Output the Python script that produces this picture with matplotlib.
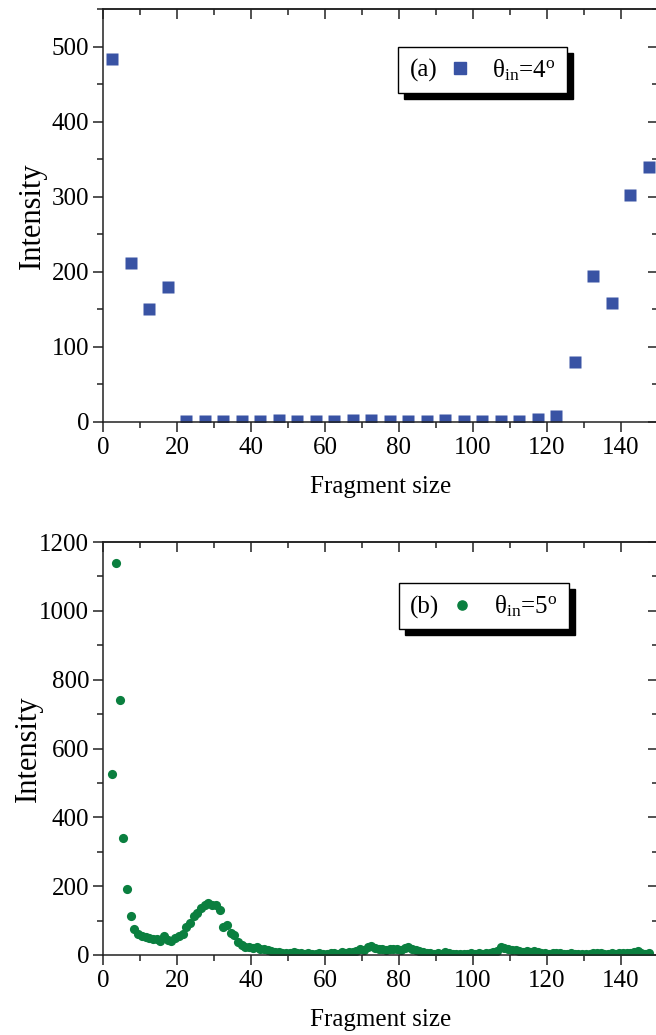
import numpy as np
import matplotlib
matplotlib.use("Agg")
import matplotlib.pyplot as plt
from matplotlib.lines import Line2D
from matplotlib.ticker import MultipleLocator

plt.rcParams['font.family'] = ['Liberation Serif', 'DejaVu Serif']
plt.rcParams['mathtext.fontset'] = 'custom'
plt.rcParams['mathtext.rm'] = 'Liberation Serif'
plt.rcParams['mathtext.it'] = 'Liberation Serif:italic'

# (a) theta_in = 4 deg, 5-wide bins
size_a = np.arange(2.5, 150, 5.0)
intensity_a = [483, 212, 151, 180, 1, 1, 1, 1, 1, 2, 1, 1, 1, 2, 2, 1, 1, 1, 2, 1,
               1, 1, 1, 4, 8, 80, 195, 158, 302, 340]

# (b) theta_in = 5 deg, unit bins
size_b = np.arange(2.5, 148, 1.0)
intensity_b = [527, 1138, 740, 340, 192, 113, 75, 62, 56, 52,
               50, 47, 46, 40, 55, 44, 42, 48, 55, 62,
               80, 92, 112, 122, 138, 146, 150, 145, 144, 132,
               80, 88, 64, 58, 38, 28, 24, 22, 20, 23,
               18, 16, 14, 12, 10, 8, 7, 7, 5, 8,
               6, 5, 4, 5, 4, 3, 5, 4, 3, 5,
               6, 4, 8, 6, 10, 8, 12, 16, 14, 22,
               26, 20, 16, 18, 15, 17, 16, 18, 15, 20,
               22, 16, 14, 12, 10, 6, 5, 4, 5, 3,
               8, 5, 4, 3, 4, 3, 4, 7, 4, 5,
               4, 5, 6, 8, 12, 22, 20, 16, 14, 15,
               12, 10, 12, 8, 11, 8, 6, 5, 4, 5,
               7, 5, 4, 3, 5, 3, 4, 3, 4, 3,
               5, 7, 5, 4, 3, 5, 4, 6, 5, 7,
               5, 8, 12, 6, 4, 6]

blue = '#3953a4'
green = '#0a7f3f'
axis_col = '#222222'
tick_fs = 18
xlab_fs = 18
ylab_fs = 22
key_fs = 18


def style_axes(ax, ymax, ymajor, yminor, ylab_x):
    ax.set_xlim(0, 150)
    ax.set_ylim(0, ymax)
    ax.xaxis.set_major_locator(MultipleLocator(20))
    ax.xaxis.set_minor_locator(MultipleLocator(10))
    ax.yaxis.set_major_locator(MultipleLocator(ymajor))
    ax.yaxis.set_minor_locator(MultipleLocator(yminor))
    ax.tick_params(which='both', direction='out', labelsize=tick_fs, width=1.1,
                   color=axis_col, top=False, right=False)
    ax.tick_params(which='major', length=7)
    ax.tick_params(which='minor', length=4)
    ax.tick_params(axis='x', pad=4)
    ax.tick_params(axis='y', pad=3)
    for sp in ax.spines.values():
        sp.set_linewidth(1.1)
        sp.set_color(axis_col)

    top = ax.secondary_xaxis('top')
    top.xaxis.set_major_locator(MultipleLocator(20))
    top.xaxis.set_minor_locator(MultipleLocator(10))
    top.tick_params(which='both', direction='in', width=1.1, color=axis_col,
                    labeltop=False, labelbottom=False)
    top.tick_params(which='major', length=7)
    top.tick_params(which='minor', length=4)
    top.spines['top'].set_linewidth(1.1)
    top.spines['top'].set_color(axis_col)

    right = ax.secondary_yaxis('right')
    right.yaxis.set_major_locator(MultipleLocator(ymajor))
    right.yaxis.set_minor_locator(MultipleLocator(yminor))
    right.tick_params(which='both', direction='in', width=1.1, color=axis_col,
                      labelright=False, labelleft=False)
    right.tick_params(which='major', length=7)
    right.tick_params(which='minor', length=4)

    ax.set_xlabel('Fragment size', fontsize=xlab_fs, labelpad=12)
    ax.set_ylabel('Intensity', fontsize=ylab_fs)
    ax.yaxis.set_label_coords(ylab_x, 0.5)


def add_key(ax, tag, marker, color, ms, label, anchor):
    handles = [Line2D([], [], ls='none'),
               Line2D([], [], ls='none', marker=marker, color=color, ms=ms)]
    leg = ax.legend(handles, [tag, '     ' + label + ' '], ncol=2, loc='upper left',
                    bbox_to_anchor=anchor, fontsize=key_fs, numpoints=1,
                    handlelength=0.05, handletextpad=0.0, columnspacing=0.9,
                    borderpad=0.4, borderaxespad=0.0,
                    fancybox=False, framealpha=1, edgecolor='k',
                    shadow={'color': 'k', 'alpha': 1, 'ox': 4.3, 'oy': -4.3})
    leg.get_frame().set_linewidth(1.0)
    return leg


fig = plt.figure(figsize=(6.56, 10.35), dpi=100)
ax1 = fig.add_axes([0.157, 0.5923, 0.846, 0.399])
ax2 = fig.add_axes([0.157, 0.0773, 0.846, 0.399])

ax1.plot(size_a, intensity_a, ls='none', marker='s', ms=8.6, color=blue, mec='none')
style_axes(ax1, 550, 100, 50, -0.102)
add_key(ax1, '(a)', 's', blue, 8.6, 'θ$_{\\rm in}$=4$^{\\rm o}$', (0.532, 0.908))

ax2.plot(size_b, intensity_b, ls='none', marker='o', ms=6.6, color=green, mec='none')
style_axes(ax2, 1200, 200, 100, -0.108)
add_key(ax2, '(b)', 'o', green, 6.6, 'θ$_{\\rm in}$=5$^{\\rm o}$', (0.533, 0.90))

fig.savefig('out.png', dpi=100)
